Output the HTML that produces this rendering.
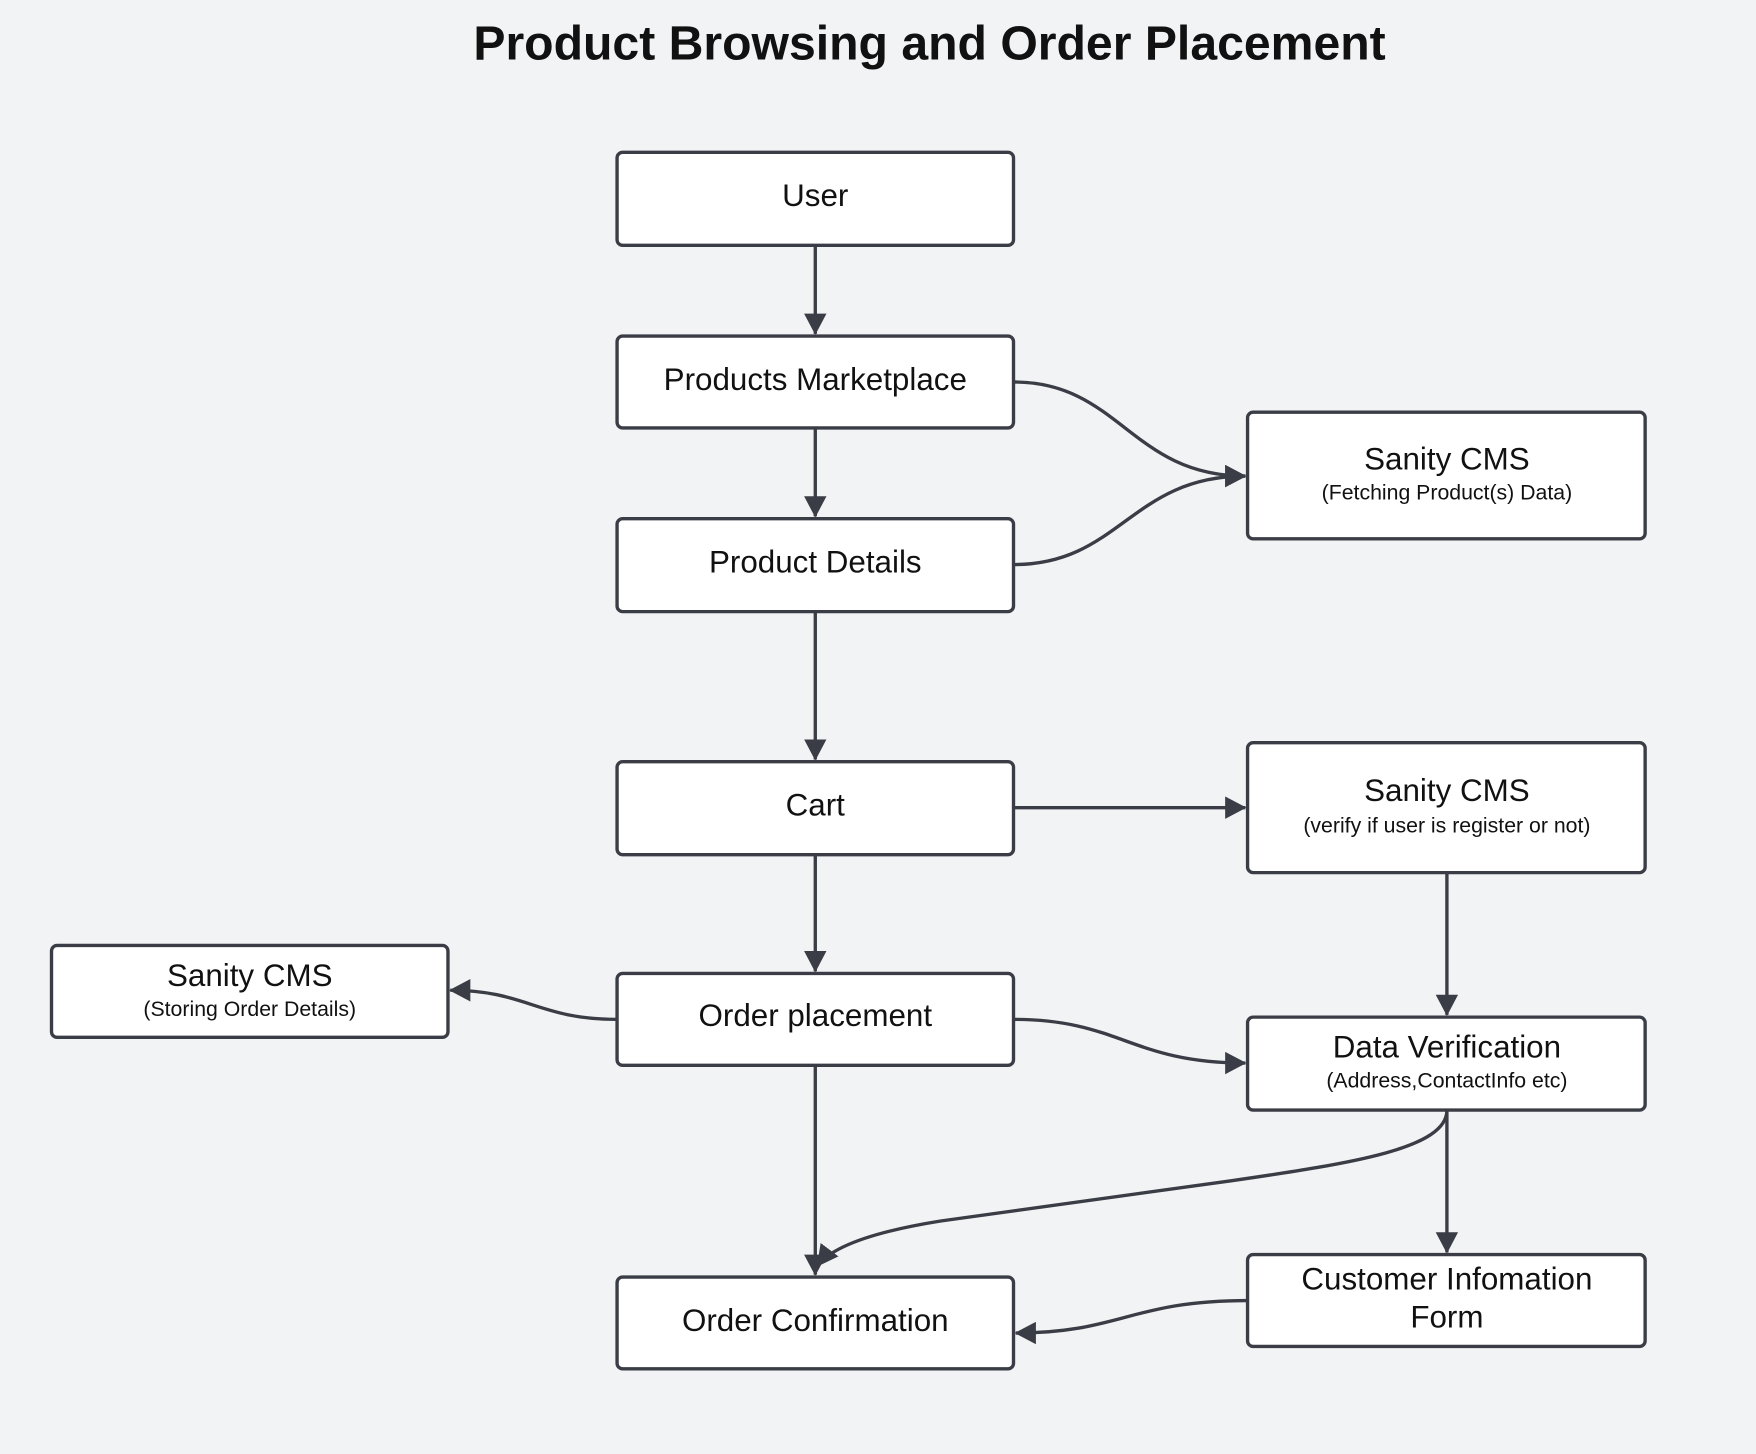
<!DOCTYPE html>
<html><head><meta charset="utf-8"><style>
html,body{margin:0;padding:0;background:#f2f3f5;}
svg{display:block;}
text{font-family:"Liberation Sans",sans-serif;fill:#111;}
</style></head><body>
<svg width="1756" height="1454" viewBox="0 0 1568 1298" preserveAspectRatio="none" xmlns="http://www.w3.org/2000/svg">
<defs>
<marker id="a" markerWidth="20" markerHeight="20" refX="18" refY="10" orient="auto" markerUnits="userSpaceOnUse">
<path d="M0,0 L19,10 L0,20 Z" fill="#3a3d45"/></marker>
</defs>
<rect width="1568" height="1298" fill="#f2f3f5"/>
<text x="830" y="53" font-size="43" font-weight="bold" text-anchor="middle">Product Browsing and Order Placement</text>
<g fill="#fff" stroke="#3a3d45" stroke-width="3">
<rect x="551" y="136" width="354" height="83" rx="5"/>
<rect x="551" y="300" width="354" height="82" rx="5"/>
<rect x="551" y="463" width="354" height="83" rx="5"/>
<rect x="551" y="680" width="354" height="83" rx="5"/>
<rect x="551" y="869" width="354" height="82" rx="5"/>
<rect x="551" y="1140" width="354" height="82" rx="5"/>
<rect x="1114" y="368" width="355" height="113" rx="5"/>
<rect x="1114" y="663" width="355" height="116" rx="5"/>
<rect x="1114" y="908" width="355" height="83" rx="5"/>
<rect x="1114" y="1120" width="355" height="82" rx="5"/>
<rect x="46" y="844" width="354" height="82" rx="5"/>
</g>
<g fill="none" stroke="#3a3d45" stroke-width="3" marker-end="url(#a)">
<path d="M728,219 L728,298"/>
<path d="M728,382 L728,461"/>
<path d="M905,341 C1000,341 1010,425 1112,425"/>
<path d="M905,504 C1000,504 1010,425 1112,425"/>
<path d="M728,546 L728,678"/>
<path d="M905,721 L1112,721"/>
<path d="M728,763 L728,867"/>
<path d="M1292,779 L1292,906"/>
<path d="M551,910 C480,910 470,884 402,884"/>
<path d="M905,910 C1000,910 1010,949 1112,949"/>
<path d="M728,951 L728,1138"/>
<path d="M1292,991 C1292,1025 1210,1038 1100,1054 L840,1090 C790,1098 745,1110 730,1130"/>
<path d="M1292,991 L1292,1118"/>
<path d="M1114,1161 C1010,1161 1000,1190 907,1190"/>
</g>
<g font-size="28" text-anchor="middle">
<text x="728" y="184">User</text>
<text x="728" y="348">Products Marketplace</text>
<text x="728" y="511">Product Details</text>
<text x="728" y="728">Cart</text>
<text x="728" y="916">Order placement</text>
<text x="728" y="1188">Order Confirmation</text>
<text x="1292" y="419">Sanity CMS</text>
<text x="1292" y="715">Sanity CMS</text>
<text x="1292" y="944">Data Verification</text>
<text x="1292" y="1151">Customer Infomation</text>
<text x="1292" y="1185">Form</text>
<text x="223" y="880">Sanity CMS</text>
</g>
<g font-size="19" text-anchor="middle">
<text x="1292" y="446">(Fetching Product(s) Data)</text>
<text x="1292" y="743">(verify if user is register or not)</text>
<text x="1292" y="971">(Address,ContactInfo etc)</text>
<text x="223" y="907">(Storing Order Details)</text>
</g>
</svg>
</body></html>
